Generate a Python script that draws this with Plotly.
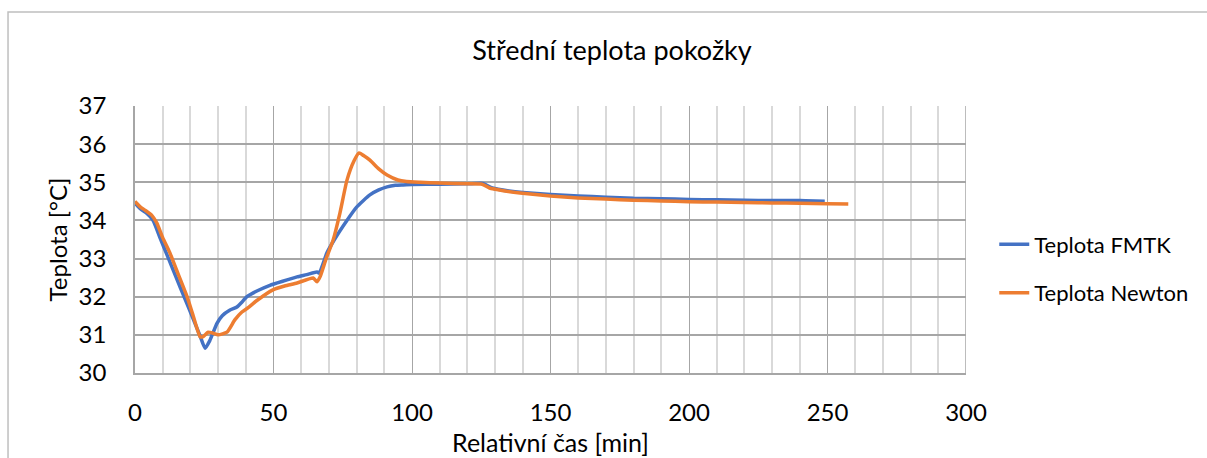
import plotly.graph_objects as go

# time [min] and mean skin temperature [°C]
fmtk_t = [0, 2, 4, 6.5, 9, 12, 15, 18, 21, 23.5, 25.3, 27, 29.6, 31.5, 34.3, 36.8, 38.5, 40.4, 44,
          48.7, 53, 58.5, 62, 65.7, 66.5, 69.3, 72, 76.5, 80, 84.8, 88, 91, 94, 96.8, 100, 110, 120,
          125.6, 127, 129, 135, 140, 150, 160, 170, 180, 190, 200, 210, 220, 230, 240, 249]
fmtk_y = [34.45, 34.3, 34.2, 34.0, 33.55, 33.02, 32.48, 31.95, 31.42, 30.97, 30.65, 30.85, 31.3, 31.5,
          31.65, 31.73, 31.85, 32.0, 32.15, 32.3, 32.4, 32.52, 32.58, 32.65, 32.62, 33.15, 33.5, 34.0,
          34.35, 34.67, 34.8, 34.88, 34.92, 34.93, 34.94, 34.95, 34.96, 34.97, 34.92, 34.85, 34.77,
          34.73, 34.68, 34.64, 34.61, 34.58, 34.57, 34.55, 34.54, 34.53, 34.52, 34.52, 34.5]

newton_t = [0, 2, 3.6, 6, 7.9, 10, 12.6, 15, 18.8, 21, 23.5, 24.5, 26.4, 28, 30, 33.2, 36.1, 38.6,
            41, 44, 49.8, 54, 58.5, 64.3, 65.7, 66.8, 69, 71.5, 74, 76.5, 79, 80.9, 82.5, 84.8, 88,
            91, 94.9, 98, 102.9, 110, 120, 125.3, 128, 133, 139, 150, 160, 170, 180, 190, 200, 210,
            220, 230, 240, 250, 257.5]
newton_y = [34.5, 34.35, 34.27, 34.14, 33.93, 33.55, 33.15, 32.7, 32.0, 31.5, 30.95, 30.95, 31.07,
            31.05, 31.0, 31.07, 31.4, 31.6, 31.72, 31.9, 32.18, 32.28, 32.36, 32.49, 32.39, 32.52,
            33.0, 33.48, 34.2, 35.05, 35.55, 35.77, 35.7, 35.58, 35.35, 35.19, 35.06, 35.02, 35.0,
            34.98, 34.96, 34.95, 34.85, 34.78, 34.72, 34.64, 34.59, 34.56, 34.53, 34.51, 34.49,
            34.48, 34.47, 34.46, 34.45, 34.44, 34.43]

font_family = 'Lato, Calibri, sans-serif'

fig = go.Figure()
fig.add_scatter(x=fmtk_t, y=fmtk_y, mode='lines', name='Teplota FMTK',
                line={'color': '#4472C4', 'width': 3.5, 'shape': 'spline', 'smoothing': 0.5},
                legendgroup='a')
fig.add_scatter(x=newton_t, y=newton_y, mode='lines', name='Teplota Newton',
                line={'color': '#ED7D31', 'width': 3.5, 'shape': 'spline', 'smoothing': 0.5},
                legendgroup='b')

# outer chart frame
fig.add_shape(type='rect', xref='paper', yref='paper',
              x0=-0.1528, x1=1.31, y0=-0.37, y1=1.352,
              line={'color': '#BFBFBF', 'width': 1.5}, layer='below')

fig.update_layout(
    width=1207, height=458,
    margin=dict(l=135, r=241, t=106, b=85),
    plot_bgcolor='white', paper_bgcolor='white',
    font=dict(family=font_family, size=20, color='#000000'),
    title=dict(text='Střední teplota pokožky', x=0.507, xanchor='center',
               y=1 - 51 / 458, yanchor='middle', font=dict(size=27)),
    legend=dict(x=1.034, y=0.39, xanchor='left', yanchor='middle',
                font=dict(size=22), tracegroupgap=17, bgcolor='rgba(0,0,0,0)'),
    showlegend=True,
)

fig.update_xaxes(range=[0, 300], dtick=50, tick0=0, automargin=False,
                 showgrid=True, gridcolor='#A6A6A6', gridwidth=1,
                 minor=dict(dtick=10, showgrid=True, gridcolor='#D9D9D9', gridwidth=1.5),
                 showline=True, linecolor='#A6A6A6', linewidth=1.5, mirror=False,
                 zeroline=False, ticks='', ticklabelstandoff=17,
                 tickfont=dict(family=font_family, size=24),
                 title=dict(text='Relativní čas [min]', standoff=10,
                            font=dict(family=font_family, size=25)))
fig.update_yaxes(range=[30, 37], dtick=1, tick0=30, automargin=False,
                 showgrid=True, gridcolor='#A6A6A6', gridwidth=1.5,
                 showline=True, linecolor='#A6A6A6', linewidth=1.5,
                 zeroline=False, ticks='', ticklabelstandoff=22,
                 tickfont=dict(family=font_family, size=24),
                 title=dict(text='Teplota [°C]', standoff=4,
                            font=dict(family=font_family, size=24)))

# right border of the plot area at x = 300
fig.add_shape(type='line', xref='x', yref='paper', x0=300, x1=300, y0=0, y1=1,
              line={'color': '#A6A6A6', 'width': 1.5})

fig.write_html("out.html", config={'displayModeBar': False},
               post_script="document.body.style.margin='0';")
